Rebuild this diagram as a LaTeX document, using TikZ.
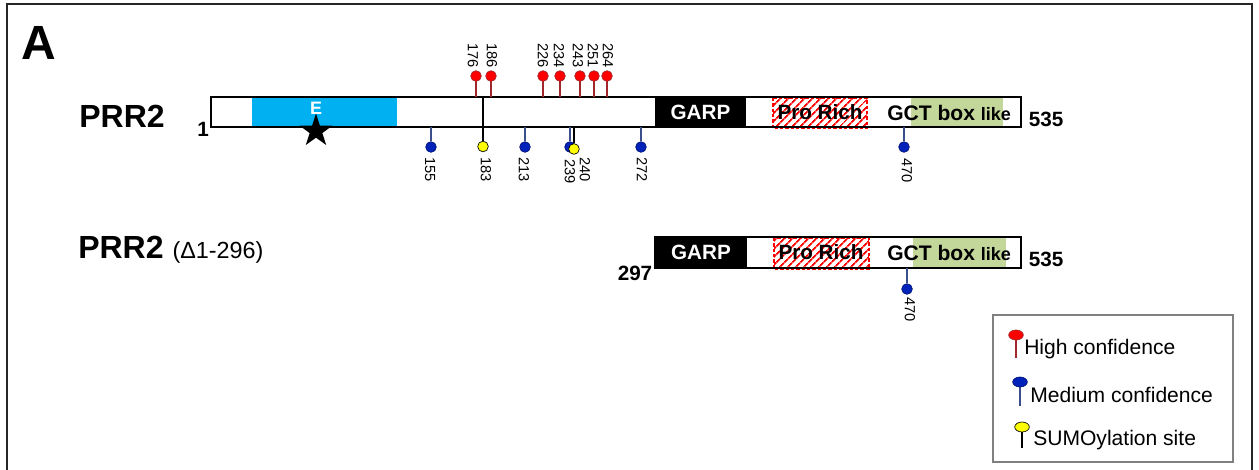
\documentclass[tikz,border=0pt]{standalone}
\usepackage{fontspec}
\setmainfont{Liberation Sans}
\usetikzlibrary{shapes.geometric,patterns.meta}
\definecolor{ebl}{HTML}{00B0F0}
\definecolor{gct}{HTML}{C4D79B}
\definecolor{pinred}{HTML}{FF0000}
\definecolor{stemred}{HTML}{A0282D}
\definecolor{pinblue}{HTML}{0022BB}
\definecolor{stemblue}{HTML}{3A4F8A}
\definecolor{pinyel}{HTML}{FFFF00}
\newcommand\fsz[1]{\fontsize{#1}{#1}\selectfont}
\begin{document}
\begin{tikzpicture}[x=0.75pt,y=-0.75pt,
  bar/.style={draw=black,line width=1.3pt},
  lab/.style={font=\fsz{11},inner sep=0pt,rotate=-90},
  hipin/.style={circle,fill=pinred,draw=stemred,line width=0.5pt,minimum size=8pt,inner sep=0pt},
  medpin/.style={circle,fill=pinblue,draw=pinblue!60!black,line width=0.5pt,minimum size=8pt,inner sep=0pt},
  sumopin/.style={circle,fill=pinyel,draw=black,line width=0.5pt,minimum size=8pt,inner sep=0pt},
  hstem/.style={draw=stemred,line width=0.9pt},
  mstem/.style={draw=stemblue,line width=0.9pt},
  sstem/.style={draw=black,line width=0.9pt},
  wlab/.style={font=\bfseries\fsz{15.5},text=white,inner sep=0pt},
  blab/.style={font=\bfseries\fsz{15.5},inner sep=0pt},
  prorich/.style={pattern={Lines[angle=45,distance=4pt,line width=1.4pt]},pattern color=red},
  legtext/.style={font=\fsz{15.8},anchor=west,inner sep=0pt}]
\useasboundingbox (0,0) rectangle (1259,470);
% frame
\draw[line width=1.5pt,draw=black!85] (6.5,480) -- (6.5,4.5) -- (1252,4.5) -- (1252,480);
\node[font=\bfseries\fsz{36},inner sep=0pt] (A) at (39,43) {A};

% ---------- PRR2 full length ----------
\node[font=\bfseries\fsz{24},inner sep=0pt] (name1) at (122,116) {PRR2};
\fill[ebl] (252,97) rectangle (397,127);
\fill[black] (655,97) rectangle (746,127);
\fill[prorich] (773,98) rectangle (867,128);
\draw[red,line width=1pt,dash pattern=on 2.5pt off 1.5pt] (773,98) rectangle (867,128.5);
\fill[gct] (911,98) rectangle (1003,126);
\draw[bar] (211,97) rectangle (1021,127);
\node[font=\bfseries\fsz{13.5},text=white,inner sep=0pt] (E) at (316,108.5) {E};
\node[star,star points=5,star point ratio=2.6,fill=black,minimum size=26pt,inner sep=0pt] (star) at (316,131) {};
\node[wlab] (garp1) at (700.5,112) {GARP};
\node[blab] (pro1) at (820,112) {Pro Rich};
\node[font=\bfseries\fsz{15.8},inner sep=0pt,anchor=west] (gct1) at (887,113) {GCT box \fsz{13.5}like};
\node[blab] (one) at (203,129.5) {1};
\node[blab] (end1) at (1046,119) {535};

% high confidence pins
\foreach \n/\px/\lx in {176/476/473,186/491/492,226/543/543,234/560/559,243/580/578,251/594/593,264/607/608}{
  \coordinate (b\n) at (\px,97);
  \draw[hstem] (\px,81) -- (b\n);
  \node[hipin] (h\n) at (\px,76) {};
  \node[lab,anchor=east] (lh\n) at (\lx,68) {\n};
}
% medium confidence / sumo pins below
\foreach \n/\px/\lx/\ly in {155/431/430/157,213/525/524/157,239/570/570/159,272/641/642/157,470/904/907/158}{
  \coordinate (c\n) at (\px,127);
  \node[medpin] (m\n) at (\px,147) {};
  \draw[mstem] (c\n) -- (m\n);
  \node[lab,anchor=west] (lm\n) at (\lx,\ly) {\n};
}
\coordinate (top183) at (483,97);
\node[sumopin] (s183) at (483,146.5) {};
\draw[sstem] (top183) -- (s183);
\node[lab,anchor=west] (ls183) at (486,157) {183};
\coordinate (c240) at (574,127);
\node[sumopin] (s240) at (574,149) {};
\draw[sstem] (c240) -- (s240);
\node[lab,anchor=west] (ls240) at (585,157) {240};

% ---------- PRR2 delta ----------
\node[anchor=base west,inner sep=0pt] (name2) at (78,258) {\bfseries\fsz{24}PRR2 \mdseries\fsz{17.5}(Δ1-296)};
\fill[black] (655,237) rectangle (747,268);
\fill[prorich] (774,238) rectangle (869,268);
\draw[red,line width=1pt,dash pattern=on 2.5pt off 1.5pt] (774,238) rectangle (869,269);
\fill[gct] (913,238) rectangle (1006,267);
\draw[bar] (655,237) rectangle (1021,268);
\node[wlab] (garp2) at (701,252) {GARP};
\node[blab] (pro2) at (821,252) {Pro Rich};
\node[font=\bfseries\fsz{15.8},inner sep=0pt,anchor=west] (gct2) at (887,253) {GCT box \fsz{13.5}like};
\node[blab] (start2) at (635,273) {297};
\node[blab] (end2) at (1046,259) {535};
\coordinate (d470) at (907,268);
\node[medpin] (m2470) at (907,289) {};
\draw[mstem] (d470) -- (m2470);
\node[lab,anchor=west] (lm2470) at (910,297) {470};

% ---------- legend ----------
\draw[draw=black!50,line width=1pt] (993,315) rectangle (1233,462);
\coordinate (lr) at (1016,358);
\draw[hstem] (1016,338) -- (lr);
\node[ellipse,fill=pinred,draw=stemred,line width=0.5pt,minimum width=11pt,minimum height=7.5pt,inner sep=0pt] (legr) at (1016,335) {};
\node[legtext] (tr) at (1024,349) {High confidence};
\coordinate (lb) at (1020,406);
\draw[mstem] (1020,385) -- (lb);
\node[ellipse,fill=pinblue,draw=pinblue!60!black,line width=0.5pt,minimum width=11pt,minimum height=7.5pt,inner sep=0pt] (legb) at (1020,382) {};
\node[legtext] (tb) at (1030,395) {Medium confidence};
\coordinate (ly) at (1022,448);
\draw[sstem] (1022,430) -- (ly);
\node[ellipse,fill=pinyel,draw=black,line width=0.5pt,minimum width=11pt,minimum height=7.5pt,inner sep=0pt] (legy) at (1022,427) {};
\node[legtext] (ty) at (1033,440) {SUMOylation site};
\end{tikzpicture}
\end{document}
